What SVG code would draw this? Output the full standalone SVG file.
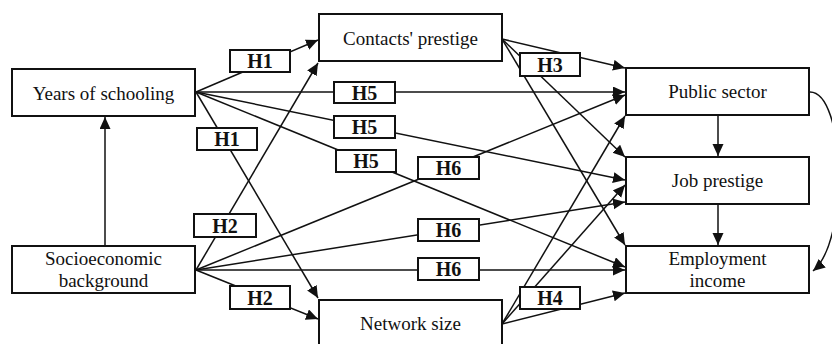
<svg xmlns="http://www.w3.org/2000/svg" width="832" height="344" viewBox="0 0 832 344">
<defs>
<marker id="arr" markerUnits="userSpaceOnUse" markerWidth="13" markerHeight="12" refX="12" refY="5.5" orient="auto">
<path d="M0,0 L12,5.5 L0,11 z" fill="#111"/>
</marker>
<style>
text{font-family:"Liberation Serif","Times New Roman",serif;fill:#111;text-anchor:middle}
.node rect{fill:#fff;stroke:#111;stroke-width:2}
.node text{font-size:19px}
.conn line,.conn path{stroke:#111;stroke-width:1.5;fill:none;marker-end:url(#arr)}
.lab rect{fill:#fff;stroke:#111;stroke-width:2}
.lab text{font-size:20px;font-weight:bold}
</style>
</defs>
<rect width="832" height="344" fill="#fff"/>
<g id="connectors" class="conn">
<line x1="196" y1="92" x2="318" y2="40"/>
<line x1="196" y1="92" x2="625" y2="92"/>
<line x1="196" y1="92" x2="625" y2="180"/>
<line x1="196" y1="92" x2="625" y2="267"/>
<line x1="196" y1="92" x2="318" y2="298"/>
<line x1="196" y1="270" x2="318" y2="63"/>
<line x1="196" y1="270" x2="625" y2="95"/>
<line x1="196" y1="270" x2="625" y2="202"/>
<line x1="196" y1="270" x2="625" y2="270"/>
<line x1="196" y1="270" x2="318" y2="319"/>
<line x1="502" y1="39" x2="625" y2="68"/>
<line x1="502" y1="39" x2="625" y2="157"/>
<line x1="502" y1="39" x2="625" y2="245"/>
<line x1="502" y1="324" x2="625" y2="116"/>
<line x1="502" y1="324" x2="625" y2="185"/>
<line x1="502" y1="324" x2="625" y2="293"/>
<line x1="105" y1="246" x2="105" y2="117"/>
<line x1="718" y1="115" x2="718" y2="156"/>
<line x1="718" y1="204" x2="718" y2="245"/>
<path d="M810,92 C845,92 850,240 813,271"/>
</g>
<g id="labels" class="lab">
<g id="lab-h1a"><rect x="230" y="50" width="60" height="22"/><text x="260" y="68">H1</text></g>
<g id="lab-h1b"><rect x="197" y="128" width="60" height="22"/><text x="227" y="146">H1</text></g>
<g id="lab-h5a"><rect x="334" y="82" width="61" height="21"/><text x="364.5" y="99.5">H5</text></g>
<g id="lab-h5b"><rect x="334" y="116" width="61" height="22"/><text x="364.5" y="134">H5</text></g>
<g id="lab-h5c"><rect x="336" y="150" width="60" height="22"/><text x="366" y="168">H5</text></g>
<g id="lab-h6a"><rect x="418" y="157" width="61" height="22"/><text x="448.5" y="175">H6</text></g>
<g id="lab-h6b"><rect x="418" y="219" width="61" height="22"/><text x="448.5" y="237">H6</text></g>
<g id="lab-h6c"><rect x="418" y="258" width="61" height="22"/><text x="448.5" y="276">H6</text></g>
<g id="lab-h2a"><rect x="194" y="214" width="62" height="23"/><text x="225" y="232.5">H2</text></g>
<g id="lab-h2b"><rect x="230" y="286" width="60" height="23"/><text x="260" y="304.5">H2</text></g>
<g id="lab-h3"><rect x="520" y="53" width="60" height="23"/><text x="550" y="71.5">H3</text></g>
<g id="lab-h4"><rect x="520" y="287" width="60" height="22"/><text x="550" y="305">H4</text></g>
</g>
<g id="years" class="node"><rect x="12" y="69" width="183" height="47"/><text x="103.5" y="99.5">Years of schooling</text></g>
<g id="ses" class="node"><rect x="12" y="246" width="183" height="47"/><text x="103.5" y="265">Socioeconomic</text><text x="103.5" y="287">background</text></g>
<g id="contacts" class="node"><rect x="319" y="14" width="183" height="47"/><text x="410.5" y="45">Contacts' prestige</text></g>
<g id="network" class="node"><rect x="319" y="300" width="183" height="47"/><text x="410.5" y="330">Network size</text></g>
<g id="public" class="node"><rect x="626" y="68" width="183" height="47"/><text x="717.5" y="98">Public sector</text></g>
<g id="jobprestige" class="node"><rect x="626" y="157" width="183" height="47"/><text x="717.5" y="187">Job prestige</text></g>
<g id="income" class="node"><rect x="626" y="246" width="183" height="47"/><text x="717.5" y="265">Employment</text><text x="717.5" y="287">income</text></g>
</svg>
